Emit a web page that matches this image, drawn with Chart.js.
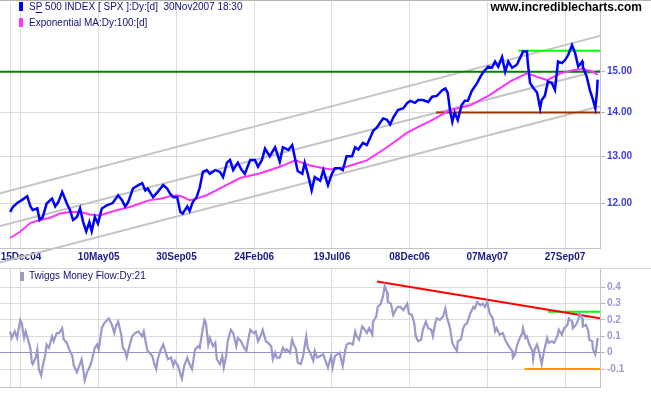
<!DOCTYPE html>
<html><head><meta charset="utf-8">
<script src="https://cdn.jsdelivr.net/npm/chart.js@4/dist/chart.umd.min.js"></script>
<style>
html,body{margin:0;padding:0;background:#fff;}
#wrap{position:relative;width:651px;height:395px;overflow:hidden;background:#fff;}
canvas{position:absolute;left:0;}
</style></head><body>
<div id="wrap">
<canvas id="cTop" width="651" height="268" style="top:0px"></canvas>
<canvas id="cBot" width="651" height="127" style="top:268px"></canvas>
</div>
<script>
// ---- x axis: trading-day index ----
const xTickDays = [14,114,214,314,414,514,614,714];
const xTickLabels = ['15Dec04','10May05','30Sep05','24Feb06','19Jul06','08Dec06','07May07','27Sep07'];
const priceTicks = [12,13,14,15];
const tmfTicks = [-0.1,0,0.1,0.2,0.3,0.4];

// ---- SP 500 (index / 100) ----
const priceDay = [
0,4,10,15,22,26,29,35,38,42,
47,54,58,62,67,73,77,81,86,90,
94,98,102,105,109,113,118,125,132,139,
144,148,152,158,165,170,174,177,184,190,
197,202,206,210,215,219,222,228,231,235,
240,244,248,253,257,264,270,274,279,283,
287,293,298,302,309,315,319,324,328,334,
341,347,351,358,363,367,370,376,379,383,
388,392,399,403,409,414,418,424,428,433,
440,444,448,454,459,463,467,472,476,480,
485,489,493,499,506,511,515,521,525,531,
538,543,549,556,560,563,566,569,572,576,
581,585,589,594,601,605,608,615,620,624,
628,633,637,641,646,652,656,660,665,666,
669,673,678,682,684,688,692,697,701,705,
710,714,718,723,727,731,736,737,742,746,
750,753,755,756];
const priceVal = [
11.83,11.94,12.02,12.07,12.15,11.95,11.87,11.90,11.67,11.73,
12.00,12.10,11.94,12.03,12.24,12.00,11.87,11.67,11.73,11.90,
11.63,11.45,11.63,11.45,11.73,11.60,11.90,11.97,12.01,12.17,
12.07,11.94,12.03,12.31,12.38,12.42,12.27,12.31,12.13,12.24,
12.38,12.31,12.20,12.13,12.13,11.83,11.80,11.94,11.85,12.03,
12.13,12.33,12.66,12.70,12.62,12.70,12.66,12.55,12.86,12.92,
12.70,12.86,12.70,12.62,12.92,12.92,12.77,12.92,13.17,13.00,
13.20,12.88,13.20,13.14,13.25,12.92,12.68,12.62,12.86,12.62,
12.27,12.55,12.47,12.70,12.38,12.62,12.74,12.74,12.70,13.00,
13.00,13.20,13.15,13.30,13.25,13.40,13.57,13.65,13.76,13.86,
13.83,13.72,13.88,14.06,14.10,14.23,14.28,14.23,14.30,14.30,
14.25,14.38,14.40,14.54,14.58,14.48,14.06,13.78,14.00,13.82,
14.18,14.28,14.28,14.52,14.72,14.87,14.97,15.13,15.10,15.26,
15.13,15.38,15.00,15.26,15.10,15.18,15.35,15.52,15.52,15.25,
14.72,14.60,14.48,14.10,14.30,14.40,14.75,14.72,14.55,15.26,
15.22,15.30,15.43,15.69,15.48,15.13,15.26,15.12,14.87,14.54,
14.30,14.10,14.48,14.80];

// ---- Exponential MA 100 ----
const maDay = [
0,13,26,38,51,64,77,90,103,116,
129,141,154,167,180,193,206,215,222,231,
240,253,270,296,322,347,367,386,412,433,
459,485,511,527,540,566,592,617,643,665,
678,691,708,724,737,750,756];
const maVal = [
11.32,11.44,11.61,11.67,11.71,11.80,11.83,11.83,11.78,11.76,
11.83,11.88,11.93,12.00,12.07,12.10,12.15,12.17,12.14,12.07,
12.10,12.17,12.31,12.53,12.63,12.77,12.91,12.80,12.71,12.77,
12.91,13.20,13.53,13.68,13.79,14.06,14.17,14.42,14.75,14.96,
14.87,14.79,14.96,15.04,15.07,15.00,14.92];

// ---- Trend channel & support/resistance (start/end values) ----
const lineDays = [-13, 759];
const channelUpper = [12.21, 15.94];
const channelMiddle = [11.55, 15.04];
const channelLower = [10.86, 14.15];
const resistLevel = 15.00;
const highDays = [654, 759];  const highLevel = 15.54;
const lowDays = [548, 759];   const lowLevel = 14.00;

// ---- Twiggs Money Flow 21 ----
const tmfDay = [
0,2,6,9,13,15,18,20,23,26,
28,29,33,35,37,40,42,45,47,50,
54,56,60,63,67,69,73,77,80,82,
86,89,92,94,96,99,103,105,107,109,
112,114,118,121,125,127,131,134,136,139,
143,145,148,150,153,157,161,165,170,172,
175,177,183,185,188,190,194,197,201,203,
207,210,212,216,219,221,224,228,230,234,
238,242,
244,247,250,252,255,257,261,264,266,270,
273,275,278,280,284,287,291,293,297,300,
304,306,309,313,316,319,323,325,329,332,
336,338,341,343,347,351,354,356,360,363,
365,368,370,374,377,381,383,386,390,392,
395,399,403,405,409,413,415,418,421,424,
428,431,433,437,441,444,446,449,453,455,
459,462,466,467,471,473,477,480,482,485,
486,490,493,497,499,
502,506,511,513,517,520,522,525,529,531,
535,538,542,544,547,549,553,557,560,562,
566,569,571,575,576,580,583,585,588,592,
596,598,601,605,608,611,614,617,621,624,
626,630,634,637,639,643,646,647,650,652,
655,659,660,663,665,668,672,673,675,678,
681,684,687,691,693,697,700,704,706,710,
713,717,719,723,724,728,731,733,736,737,
741,744,745,749,750,753,755,756];
const tmfVal = [
0.13,0.09,0.13,0.09,0.20,0.18,0.09,0.13,0.08,0.03,
-0.06,-0.07,-0.03,0.02,-0.10,-0.14,-0.08,-0.02,0.05,0.03,
0.10,0.07,0.12,0.12,0.15,0.08,0.06,0.01,-0.02,-0.08,
-0.12,-0.08,-0.04,-0.10,-0.17,-0.12,-0.08,-0.05,-0.01,0.03,
0.05,0.02,0.15,0.18,0.20,0.21,0.17,0.12,0.16,0.19,
0.11,0.03,0.01,-0.03,0.03,0.10,0.12,0.13,0.10,0.13,
0.05,0.01,-0.02,-0.06,-0.10,-0.04,0.02,0.05,-0.01,-0.04,
-0.03,-0.08,-0.05,-0.08,-0.13,-0.16,-0.08,-0.03,-0.06,-0.10,
0.02,0.04,
0.03,0.12,0.20,0.18,0.05,0.09,0.04,0.06,-0.04,-0.07,
-0.02,-0.09,-0.02,0.07,0.14,0.12,0.04,0.09,0.07,0.04,
0.01,0.07,0.14,0.12,0.13,0.07,0.11,0.14,0.07,0.06,
0.04,-0.04,0.00,-0.03,-0.03,0.03,0.01,0.02,0.00,0.08,
0.05,0.02,-0.06,-0.07,-0.02,0.10,0.03,0.00,-0.05,0.01,
-0.03,-0.02,-0.01,-0.04,-0.09,-0.02,-0.09,-0.02,-0.01,0.00,
-0.08,0.01,0.05,0.06,0.05,0.13,0.10,0.08,0.16,0.15,
0.12,0.15,0.11,0.19,0.22,0.28,0.30,0.35,0.41,0.37,
0.31,0.30,0.23,0.27,0.28,
0.28,0.26,0.30,0.24,0.23,0.18,0.10,0.07,0.08,0.14,
0.19,0.15,0.14,0.10,0.18,0.21,0.20,0.22,0.27,0.22,
0.15,0.06,0.04,0.01,0.07,0.08,0.15,0.17,0.18,0.24,
0.28,0.27,0.31,0.29,0.30,0.28,0.31,0.24,0.21,0.13,
0.15,0.11,0.12,0.08,0.06,0.03,0.01,-0.03,-0.01,0.04,
0.08,0.12,0.15,0.09,0.10,0.05,0.01,-0.04,0.02,0.05,
0.00,-0.07,0.01,0.09,0.06,0.07,0.06,0.10,0.14,0.11,
0.15,0.17,0.21,0.19,0.15,0.17,0.20,0.24,0.21,0.16,
0.17,0.13,0.08,0.07,0.02,-0.01,0.05,0.09];
const tmfTrendDays = [472, 759]; const tmfTrendVal = [0.435, 0.21];
const tmfHighDays = [692, 759];  const tmfHighLevel = 0.25;
const tmfLowDays = [662, 759];   const tmfLowLevel = -0.10;

// ---- texts ----
const titleMain = 'SP 500 INDEX [ SPX ]:Dy:[d]  30Nov2007 18:30';
const titleMA = 'Exponential MA:Dy:100:[d]';
const titleTMF = 'Twiggs Money Flow:Dy:21';
const watermark = 'www.incrediblecharts.com';

// ---- helpers ----
const NARROW = '"Liberation Sans Narrow","Arial Narrow","Liberation Sans",Arial,sans-serif';
const GRID = '#dcdcdc';
const BORDER = '#c4c4c4';
const pts = (xs, ys) => xs.map((x,i)=>({x, y: ys[i]}));
const flat = (xs, v) => xs.map(x=>({x, y:v}));
const gridDays = [0].concat(xTickDays);

function line(data, color, width, extra){
  return Object.assign({data, borderColor: color, backgroundColor: color, borderWidth: width,
    pointRadius: 0, tension: 0, fill: false}, extra||{});
}
function noPad(s){ s.paddingTop = 0; s.paddingBottom = 0; s.paddingLeft = 0; s.paddingRight = 0; }

function xScale(showLabels){
  return {
    type: 'linear', min: -13, max: 759,
    afterBuildTicks: s => { s.ticks = gridDays.map(v=>({value:v})); },
    afterFit: s => { s.height = showLabels ? 20 : 8; noPad(s); },
    ticks: {
      display: showLabels, autoSkip: false, maxRotation: 0, minRotation: 0, padding: 3,
      color: '#1a1a86', font: {family: NARROW, size: 10, weight: 'bold'},
      callback: v => { const i = xTickDays.indexOf(v); return i >= 0 ? xTickLabels[i] : ''; }
    },
    grid: {color: GRID, lineWidth: 1, drawTicks: false},
    border: {color: BORDER}
  };
}

const legendTop = {
  id: 'legendTop',
  beforeDraw(chart){
    const c = chart.ctx;
    c.save(); c.fillStyle = '#fff'; c.fillRect(0,0,chart.width,chart.height); c.restore();
  },
  afterDraw(chart){
    const c = chart.ctx;
    c.save();
    c.strokeStyle = '#b4b4aa'; c.lineWidth = 1;
    c.beginPath(); c.moveTo(0,0.5); c.lineTo(chart.width,0.5); c.stroke();
    c.fillStyle = '#0000ff'; c.fillRect(19,2,4,9);
    c.fillStyle = '#ff33ff'; c.fillRect(19,18,4,9);
    c.font = '10px ' + NARROW; c.textBaseline = 'middle'; c.fillStyle = '#10107a';
    c.fillText(titleMain, 29, 7);
    c.fillText(titleMA, 29, 23);
    const w1 = c.measureText('S').width, w2 = c.measureText('P').width;
    c.fillRect(29 + w1, 12, w2, 1);
    c.font = 'bold 12px "Liberation Sans",Arial,sans-serif'; c.fillStyle = '#000';
    c.textAlign = 'right';
    c.fillText(watermark, 642, 8);
    c.restore();
  }
};

const legendBot = {
  id: 'legendBot',
  beforeDraw(chart){
    const c = chart.ctx; c.save(); c.fillStyle='#fff'; c.fillRect(0,0,chart.width,chart.height); c.restore();
  },
  afterDraw(chart){
    const c = chart.ctx;
    c.save();
    c.strokeStyle = '#d4d4d4'; c.lineWidth = 1;
    c.beginPath(); c.moveTo(0,0.5); c.lineTo(chart.width,0.5); c.stroke();
    c.fillStyle = '#9999cc'; c.fillRect(20,4,4,9);
    c.font = '10px ' + NARROW; c.textBaseline = 'middle'; c.fillStyle = '#10107a';
    c.fillText(titleTMF, 29, 8);
    c.restore();
  }
};

new Chart(document.getElementById('cTop'), {
  type: 'line',
  data: { datasets: [
    line(pts(priceDay, priceVal), '#0000ff', 2.5),
    line(pts(maDay, maVal), '#ff33ff', 2),
    line(flat(highDays, highLevel), '#00ff00', 2),
    line(flat(lowDays, lowLevel), '#993300', 2),
    line(flat(lineDays, resistLevel), '#008000', 2),
    line(pts(lineDays, channelUpper), '#c4c4c4', 2, {clip: false}),
    line(pts(lineDays, channelMiddle), '#c4c4c4', 2, {clip: false}),
    line(pts(lineDays, channelLower), '#c4c4c4', 2, {clip: false})
  ]},
  options: {
    responsive: false, animation: false, devicePixelRatio: 1,
    layout: {padding: {top: 2, left: 0, right: 0, bottom: 0}},
    plugins: {legend: {display: false}, tooltip: {enabled: false}},
    scales: {
      x: xScale(true),
      y: {
        type: 'logarithmic', position: 'right', min: 11.13, max: 16.88,
        afterBuildTicks: s => { s.ticks = priceTicks.map(v=>({value:v})); },
        afterFit: s => { s.width = 51; noPad(s); },
        ticks: {padding: 2, color: '#3a3ae6', font: {family: NARROW, size: 10, weight: 'bold'},
          callback: v => Number(v).toFixed(2)},
        grid: {color: GRID, tickLength: 5, tickColor: '#b8b8b8'},
        border: {color: BORDER}
      }
    }
  },
  plugins: [legendTop]
});

new Chart(document.getElementById('cBot'), {
  type: 'line',
  data: { datasets: [
    line(pts(tmfDay, tmfVal), '#9999cc', 2.2),
    line(pts(tmfTrendDays, tmfTrendVal), '#ff0000', 2),
    line(flat(tmfHighDays, tmfHighLevel), '#00ff00', 2),
    line(flat(tmfLowDays, tmfLowLevel), '#ff9900', 2)
  ]},
  options: {
    responsive: false, animation: false, devicePixelRatio: 1,
    layout: {padding: {top: 1, left: 0, right: 0, bottom: 0}},
    plugins: {legend: {display: false}, tooltip: {enabled: false}},
    scales: {
      x: xScale(false),
      y: {
        type: 'linear', position: 'right', min: -0.21, max: 0.512,
        afterBuildTicks: s => { s.ticks = tmfTicks.map(v=>({value:v})); },
        afterFit: s => { s.width = 51; noPad(s); },
        ticks: {padding: 2, color: '#9999cc', font: {family: NARROW, size: 10, weight: 'bold'},
          callback: v => v === 0 ? '0' : Number(v).toFixed(1)},
        grid: {color: c => (c.tick && c.tick.value === 0) ? '#9494c4' : GRID, tickLength: 5, tickColor: '#b8b8b8'},
        border: {color: BORDER}
      }
    }
  },
  plugins: [legendBot]
});
</script>
</body></html>
